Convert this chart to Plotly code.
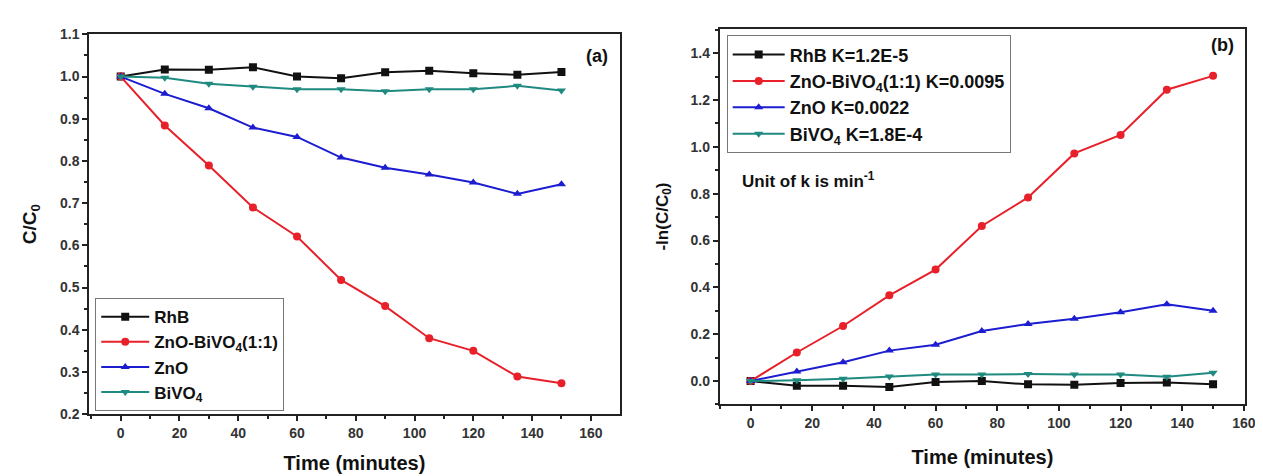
import plotly.graph_objects as go

time = [0, 15, 30, 45, 60, 75, 90, 105, 120, 135, 150]

# Panel (a): C/C0
rhb_a = [1.0, 1.017, 1.016, 1.022, 1.0, 0.996, 1.01, 1.014, 1.008, 1.004, 1.011]
znobivo_a = [1.0, 0.884, 0.789, 0.69, 0.621, 0.518, 0.456, 0.38, 0.35, 0.289, 0.273]
zno_a = [1.0, 0.959, 0.925, 0.879, 0.857, 0.808, 0.784, 0.768, 0.749, 0.722, 0.745]
bivo_a = [1.0, 0.997, 0.983, 0.976, 0.97, 0.97, 0.965, 0.97, 0.97, 0.978, 0.967]

# Panel (b): -ln(C/C0)
rhb_b = [0.0, -0.02, -0.02, -0.025, -0.004, 0.0, -0.014, -0.016, -0.008, -0.006, -0.014]
znobivo_b = [0.0, 0.122, 0.235, 0.366, 0.476, 0.662, 0.784, 0.972, 1.051, 1.244, 1.303]
zno_b = [0.0, 0.041, 0.08, 0.13, 0.155, 0.214, 0.244, 0.266, 0.294, 0.328, 0.3]
bivo_b = [0.0, 0.003, 0.01, 0.02, 0.028, 0.028, 0.03, 0.028, 0.028, 0.018, 0.035]

names_a = ["RhB", "ZnO-BiVO<sub>4</sub>(1:1)", "ZnO", "BiVO<sub>4</sub>"]
names_b = ["RhB K=1.2E-5", "ZnO-BiVO<sub>4</sub>(1:1) K=0.0095", "ZnO K=0.0022", "BiVO<sub>4</sub> K=1.8E-4"]
colors = ["#111111", "#e8202a", "#1c1cd0", "#1f8a80"]
symbols = ["square", "circle", "triangle-up", "triangle-down"]

FONT = "Liberation Sans, Arial, sans-serif"
fig = go.Figure()

for ys, nm, c, s in zip([rhb_a, znobivo_a, zno_a, bivo_a], names_a, colors, symbols):
    fig.add_trace(go.Scatter(x=time, y=ys, name=nm, mode="lines+markers",
                             line=dict(color=c, width=2),
                             marker=dict(color=c, symbol=s, size=8),
                             xaxis="x", yaxis="y", legend="legend"))
for ys, nm, c, s in zip([rhb_b, znobivo_b, zno_b, bivo_b], names_b, colors, symbols):
    fig.add_trace(go.Scatter(x=time, y=ys, name=nm, mode="lines+markers",
                             line=dict(color=c, width=2),
                             marker=dict(color=c, symbol=s, size=8),
                             xaxis="x2", yaxis="y2", legend="legend2"))

tickfont = dict(family=FONT, size=14, color="#333333", weight="bold")
xtitlefont = dict(family=FONT, size=20, color="#111111", weight="bold")
ytitlefont = dict(family=FONT, size=19, color="#111111", weight="bold")
ytitlefont2 = dict(family=FONT, size=17, color="#111111", weight="bold")
common = dict(showline=True, linewidth=2, linecolor="#222222", mirror=True,
              ticks="outside", ticklen=5, tickwidth=2, tickcolor="#222222",
              showgrid=False, zeroline=False, tickfont=tickfont)
legfont = dict(family=FONT, size=18, color="#111111", weight="bold")
legfont_a = dict(family=FONT, size=17, color="#111111", weight="bold")

W, H = 1263, 476
fig.update_layout(
    width=W, height=H, autosize=False,
    margin=dict(l=0, r=0, t=0, b=0),
    paper_bgcolor="white", plot_bgcolor="white",
    font=dict(family=FONT),
    xaxis=dict(domain=[82 / W, 617 / W], range=[-10.7, 169.8], tick0=0, dtick=20,
               minor=dict(dtick=10, ticks="outside", ticklen=3, tickwidth=2, tickcolor="#222222"),
               title=dict(text="Time (minutes)", font=xtitlefont, standoff=16), anchor="y", **common),
    yaxis=dict(domain=[1 - 412 / H, 1 - 19 / H], range=[0.2, 1.1], tick0=0.2, dtick=0.1, tickformat=".1f",
               minor=dict(dtick=0.05, ticks="outside", ticklen=3, tickwidth=2, tickcolor="#222222"),
               title=dict(text="C/C<sub>0</sub>", font=ytitlefont, standoff=18), anchor="x", **common),
    xaxis2=dict(domain=[718 / W, 1248 / W], range=[-10, 160.4], tick0=0, dtick=20,
                minor=dict(dtick=10, ticks="outside", ticklen=3, tickwidth=2, tickcolor="#222222"),
                title=dict(text="Time (minutes)", font=xtitlefont, standoff=20), anchor="y2", **common),
    yaxis2=dict(domain=[1 - 402 / H, 1 - 13 / H], range=[-0.1, 1.505], tick0=0, dtick=0.2, tickformat=".1f",
                minor=dict(dtick=0.1, ticks="outside", ticklen=3, tickwidth=2, tickcolor="#222222"),
                title=dict(text="-ln(C/C<sub>0</sub>)", font=ytitlefont2, standoff=18), anchor="x2", **common),
    legend=dict(x=88 / W, y=1 - 292 / H, xanchor="left", yanchor="top",
                bordercolor="#777777", borderwidth=1, bgcolor="white",
                font=legfont_a, tracegroupgap=0, itemwidth=48),
    legend2=dict(x=725 / W, y=1 - 20 / H, xanchor="left", yanchor="top",
                 bordercolor="#777777", borderwidth=1, bgcolor="white",
                 font=legfont, tracegroupgap=0, itemwidth=52),
    showlegend=True,
    annotations=[
        dict(text="<b>(a)</b>", x=0.981, y=0.942, xref="x domain", yref="y domain",
             xanchor="right", yanchor="middle", showarrow=False,
             font=dict(family=FONT, size=18, color="#111111")),
        dict(text="<b>(b)</b>", x=0.983, y=0.956, xref="x2 domain", yref="y2 domain",
             xanchor="right", yanchor="middle", showarrow=False,
             font=dict(family=FONT, size=18, color="#111111")),
        dict(text="<b>Unit of k is min<sup>-1</sup></b>", x=738 / W, y=1 - 170 / H,
             xref="paper", yref="paper", xanchor="left", yanchor="middle", showarrow=False,
             font=dict(family=FONT, size=17, color="#111111")),
    ],
)

fig.write_html("out.html")
